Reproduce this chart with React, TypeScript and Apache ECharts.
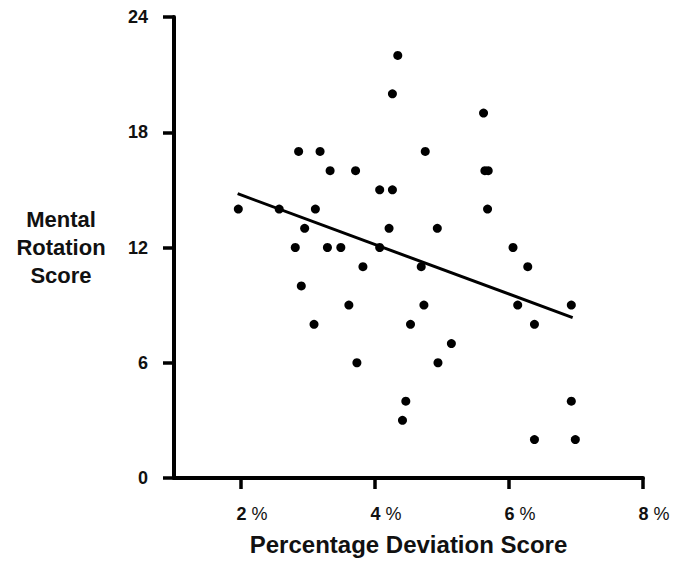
import React, { useEffect, useRef } from "react";
import * as echarts from "echarts";

const xValues = [
  1.96, 2.57, 2.81, 2.86, 2.9, 2.95, 3.09, 3.11, 3.18, 3.29, 3.33, 3.49, 3.61, 3.71, 3.73,
  3.82, 4.07, 4.07, 4.21, 4.26, 4.26, 4.34, 4.41, 4.46, 4.53, 4.69, 4.73, 4.75, 4.93, 4.94,
  5.14, 5.62, 5.64, 5.69, 5.68, 6.06, 6.13, 6.28, 6.38, 6.38, 6.93, 6.93, 6.99,
];
const yValues = [
  14, 14, 12, 17, 10, 13, 8, 14, 17, 12, 16, 12, 9, 16, 6,
  11, 15, 12, 13, 20, 15, 22, 3, 4, 8, 11, 9, 17, 13, 6,
  7, 19, 16, 16, 14, 12, 9, 11, 8, 2, 9, 4, 2,
];
const fitX = [1.95, 6.95];
const fitY = [14.8, 8.35];
const xTickValues = [2, 4, 6, 8];
const yTickLabels = [0, 6, 12, 18, 24];

const FONT = 'Arial, "Liberation Sans", sans-serif';

export default function App() {
  const ref = useRef<HTMLDivElement>(null);
  useEffect(() => {
    if (!ref.current) return;
    const chart = echarts.init(ref.current, undefined, { renderer: "svg" });
    chart.setOption({
      animation: false,
      backgroundColor: "#ffffff",
      grid: { left: 174, top: 17, right: 38, bottom: 82, containLabel: false },
      xAxis: {
        type: "value",
        min: 1,
        max: 8,
        name: "Percentage Deviation Score",
        nameLocation: "middle",
        nameGap: 54,
        nameTextStyle: { fontFamily: FONT, fontWeight: "bold", fontSize: 24, color: "#111" },
        axisLine: { show: true, lineStyle: { color: "#000", width: 4 } },
        axisTick: { show: true, length: 11, customValues: xTickValues, lineStyle: { color: "#000", width: 3.5 } },
        axisLabel: {
          customValues: xTickValues,
          margin: 27,
          padding: [0, 0, 0, 22],
          formatter: (v: number) => `{b|${v}}{n| %}`,
          rich: {
            b: { fontFamily: FONT, fontWeight: "bold", fontSize: 18, color: "#111" },
            n: { fontFamily: FONT, fontWeight: "normal", fontSize: 18, color: "#111" },
          },
        },
        splitLine: { show: false },
      },
      yAxis: {
        type: "value",
        min: yTickLabels[0],
        max: yTickLabels[yTickLabels.length - 1],
        interval: 6,
        name: "Mental\nRotation\nScore",
        nameLocation: "middle",
        nameRotate: 0,
        nameGap: 113,
        nameTextStyle: {
          fontFamily: FONT,
          fontWeight: "bold",
          fontSize: 22,
          lineHeight: 28,
          color: "#111",
          align: "center",
          verticalAlign: "middle",
        },
        axisLine: { show: true, lineStyle: { color: "#000", width: 4 } },
        axisTick: { show: true, length: 11, lineStyle: { color: "#000", width: 3.5 } },
        axisLabel: { margin: 26, fontFamily: FONT, fontWeight: "bold", fontSize: 18, color: "#111" },
        splitLine: { show: false },
      },
      series: [
        {
          type: "scatter",
          data: xValues.map((x, i) => [x, yValues[i]]),
          symbol: "circle",
          symbolSize: 9,
          itemStyle: { color: "#000", opacity: 1 },
        },
        {
          type: "line",
          data: fitX.map((x, i) => [x, fitY[i]]),
          showSymbol: false,
          lineStyle: { color: "#000", width: 3 },
        },
      ],
    });
    return () => chart.dispose();
  }, []);
  return <div ref={ref} style={{ position: "fixed", left: 0, top: 0, width: 681, height: 561 }} />;
}
